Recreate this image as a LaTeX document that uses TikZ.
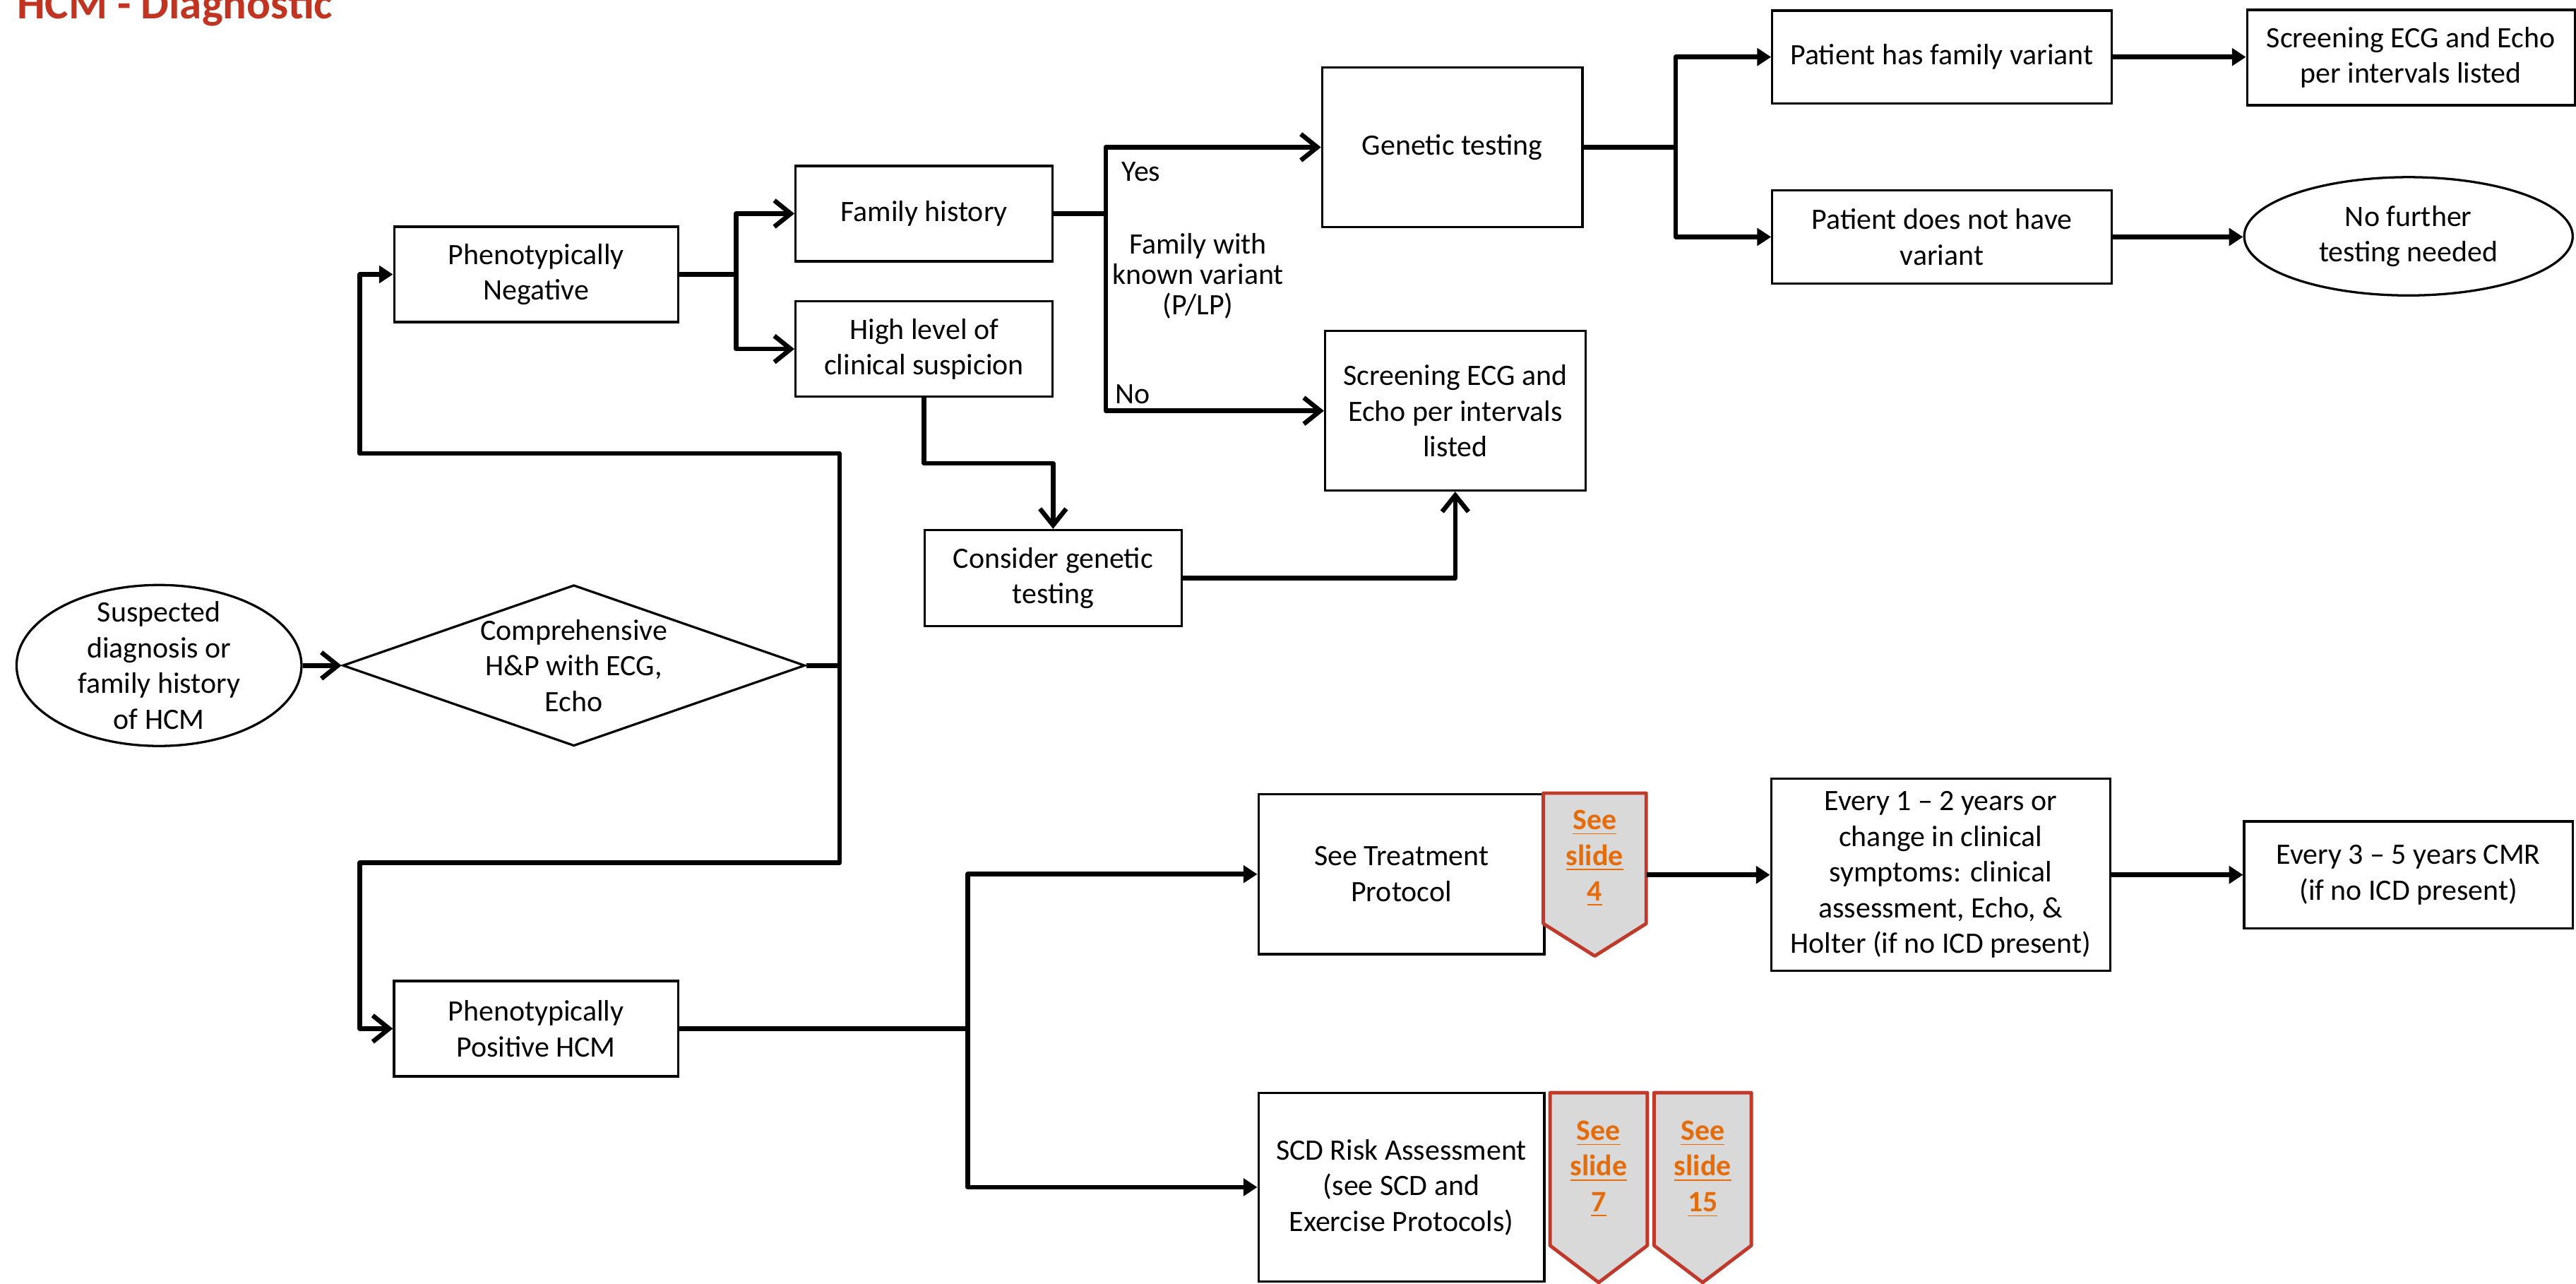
\documentclass[tikz,border=0pt]{standalone}
\usepackage{fontspec}
\setmainfont{Carlito}
\usetikzlibrary{arrows.meta,shapes.geometric}
\definecolor{titlered}{RGB}{192,52,33}
\definecolor{tagred}{RGB}{192,57,43}
\definecolor{taggray}{RGB}{217,217,217}
\definecolor{tagorange}{RGB}{228,108,10}

\begin{document}
\begin{tikzpicture}[
	                      x = 0.02cm,
	                      y = -0.02cm,
	      every node/.style = {font=\fontsize{10.25}{12.36}\selectfont, align=center, inner sep=0pt},
	             box/.style = {draw, rectangle, line width=0.8pt},
	            oval/.style = {draw, ellipse, line width=0.8pt},
	        decision/.style = {draw, diamond, line width=0.8pt, aspect=2.87, inner sep=-1.5pt},
	            conn/.style = {line width=1.6pt, line join=round},
	            barb/.style = {conn, -{Straight Barb[length=2mm, width=3.2mm]}},
	             tri/.style = {conn, -{Triangle[length=1.7mm, width=2.1mm]}},
	        tagshape/.style = {draw=tagred, fill=taggray, line width=1.2pt, line join=round},
	         tagtext/.style = {font=\fontsize{10.25}{12.36}\selectfont\bfseries, text=tagorange},
	       edgelabel/.style = {font=\fontsize{10.25}{10.6}\selectfont},
	                     ]
	\useasboundingbox (0,0) rectangle (1568,781);
	\node[font=\fontsize{15.4}{18}\selectfont\bfseries, text=titlered, anchor=base west] (title) at (10,11.5) {HCM - Diagnostic};

	% start and first check
	\node[oval, minimum width=3.47cm, minimum height=1.96cm, inner ysep=-4.5pt] (suspect) at (96.8,405) {Suspected\\diagnosis or\\family history\\of HCM};
	\node[decision, minimum width=5.63cm, minimum height=1.96cm] (hp) at (349.3,405) {Comprehensive\\H\&P with ECG,\\Echo};
	\coordinate (trunk) at (511,405);

	% phenotypically negative branch
	\node[box, minimum width=3.46cm, minimum height=1.16cm] (neg) at (326.4,167) {Phenotypically\\Negative};
	\node[box, minimum width=3.13cm, minimum height=1.16cm] (famhist) at (562.5,130) {Family history};
	\node[box, minimum width=3.13cm, minimum height=1.16cm] (suspicion) at (562.5,212.4) {High level of\\clinical suspicion};
	\node[box, minimum width=3.17cm, minimum height=1.94cm] (gentest) at (884,89.6) {Genetic testing};
	\node[box, minimum width=3.17cm, minimum height=1.94cm] (screen) at (885.8,250) {Screening ECG and\\Echo per intervals\\listed};
	\node[box, minimum width=3.13cm, minimum height=1.17cm] (consider) at (641,351.8) {Consider genetic\\testing};
	\node[box, minimum width=4.13cm, minimum height=1.13cm] (hasvar) at (1182,34.7) {Patient has family variant};
	\node[box, minimum width=4.13cm, minimum height=1.14cm] (novar) at (1182,144.2) {Patient does not have\\variant};
	\node[box, minimum width=3.99cm, minimum height=1.16cm] (screenfam) at (1467.5,35) {Screening ECG and Echo\\per intervals listed};
	\node[oval, minimum width=4.0cm, minimum height=1.44cm] (nofurther) at (1466,143.8) {No further\\testing needed};

	% phenotypically positive branch
	\node[box, minimum width=3.46cm, minimum height=1.16cm] (pos) at (326.3,626) {Phenotypically\\Positive HCM};
	\node[box, minimum width=3.48cm, minimum height=1.95cm] (treat) at (853,532) {See Treatment\\Protocol};
	\node[box, minimum width=3.48cm, minimum height=2.3cm] (scd) at (853,722.5) {SCD Risk Assessment\\(see SCD and\\Exercise Protocols)};
	\node[box, minimum width=4.13cm, minimum height=2.34cm] (yearly) at (1181.3,532.4) {Every 1 -- 2 years or\\change in clinical\\symptoms: clinical\\assessment, Echo, \&\\Holter (if no ICD present)};
	\node[box, minimum width=4.0cm, minimum height=1.3cm] (cmr) at (1466,532.4) {Every 3 -- 5 years CMR\\(if no ICD present)};

	% slide tags
	\foreach \nm/\cx/\cy/\hw/\hh/\d/\num in {tag4/970.7/522.4/31.3/39.7/19.7/4, tag7/973.1/711.5/29.6/46.5/22.5/7, tag15/1036.4/711.5/29.6/46.5/22.5/15}{
		\draw[tagshape] (\cx-\hw,\cy-\hh) -- (\cx+\hw,\cy-\hh) -- (\cx+\hw,\cy+\hh) -- (\cx,\cy+\hh+\d) -- (\cx-\hw,\cy+\hh) -- cycle;
		\node[tagtext, minimum width=\hw*0.04cm, minimum height=\hh*0.04cm] (\nm) at (\cx,\cy) {\underline{See}\\\underline{slide}\\\underline{\num}};
	}

	% connectors
	\draw[barb] (suspect.east) -- (hp.west);
	\draw[conn] (hp.east) -- (trunk);
	\draw[tri] (trunk) |- (219,276) |- (neg.west);
	\draw[barb] (trunk) |- (219,525) |- (pos.west);

	\draw[conn] (neg.east) -- (448,167) coordinate (negfork);
	\draw[barb] (negfork) |- (famhist.west);
	\draw[barb] (negfork) |- (suspicion.west);

	\draw[conn] (famhist.east) -- (673,130) coordinate (famfork);
	\draw[barb] (famfork) |- (gentest.west);
	\draw[barb] (famfork) |- (screen.west);
	\node[edgelabel, anchor=west] (yes) at (682.5,104.5) {Yes};
	\node[edgelabel, anchor=west] (no) at (678.7,240) {No};
	\node[edgelabel] (known) at (729.2,168) {Family with\\known variant\\(P/LP)};

	\draw[barb] (suspicion.south) |- (641,282) -- (consider.north);
	\draw[barb] (consider.east) -| (screen.south);

	\draw[conn] (gentest.east) -- (1020,89.6) coordinate (genfork);
	\draw[tri] (genfork) |- (hasvar.west);
	\draw[tri] (genfork) |- (novar.west);
	\draw[tri] (hasvar.east) -- (hasvar.east -| screenfam.west);
	\draw[tri] (novar.east) -- (novar.east -| nofurther.west);

	\draw[conn] (pos.east) -- (589,626) coordinate (posfork);
	\draw[tri] (posfork) |- (treat.west);
	\draw[tri] (posfork) |- (scd.west);
	\draw[tri] (tag4.east |- yearly.west) -- (yearly.west);
	\draw[tri] (yearly.east) -- (cmr.west);
\end{tikzpicture}
\end{document}
